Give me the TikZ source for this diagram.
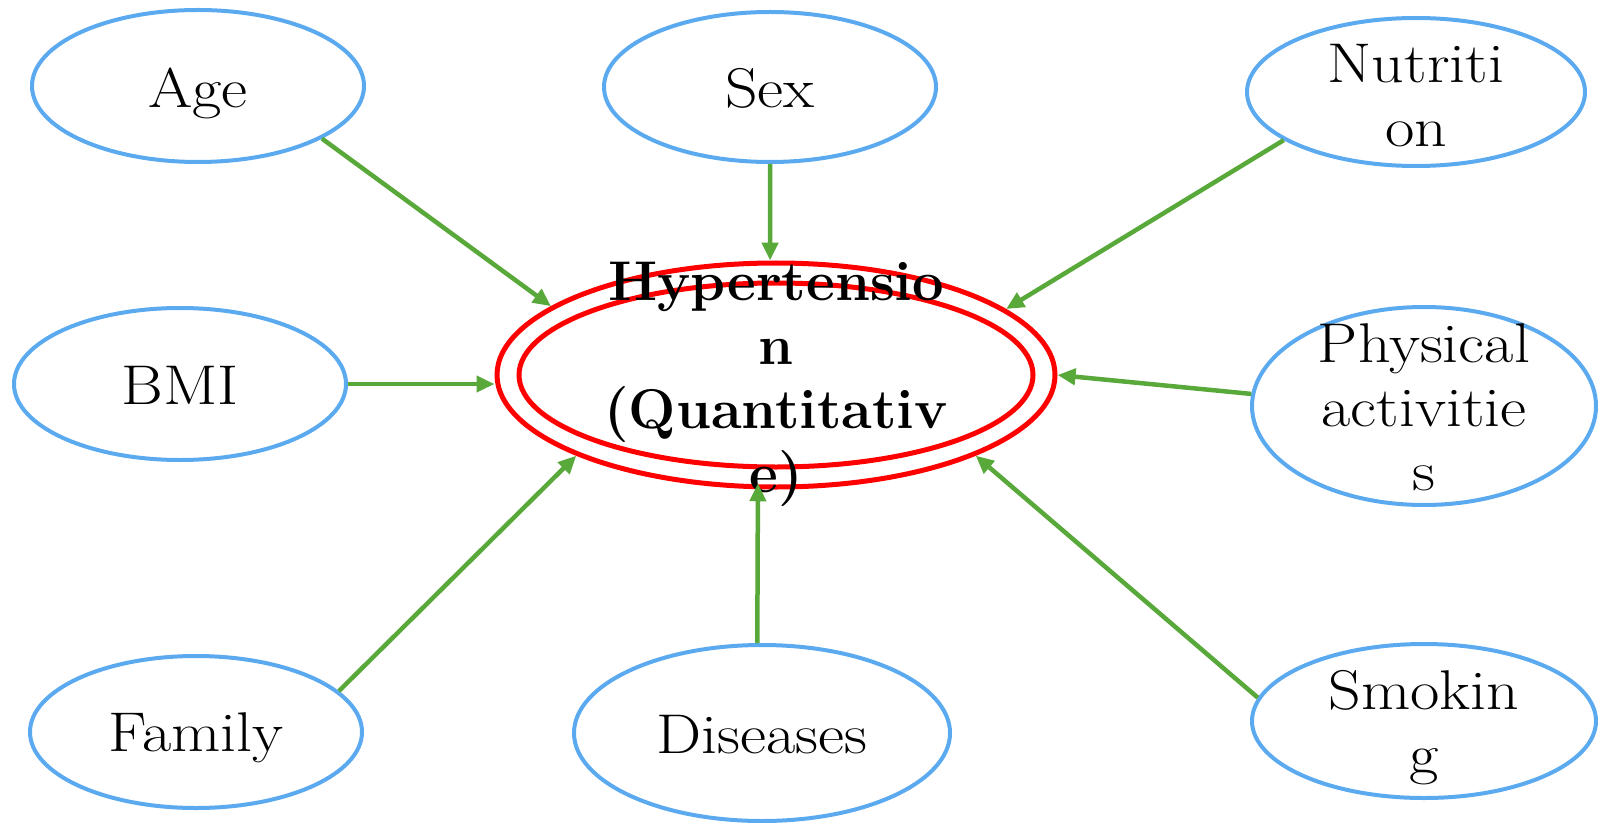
\documentclass[tikz,border=0pt]{standalone}
\usepackage{fontspec}
\usetikzlibrary{shapes.geometric,arrows.meta}
% a slightly widened roman for the bubble labels
\newfontfamily\bubblefont{Latin Modern Roman}[FakeStretch=1.14]
\definecolor{bubbleblue}{RGB}{91,170,240}
\definecolor{linkgreen}{RGB}{88,168,58}
\definecolor{corered}{RGB}{255,0,0}
\begin{document}
\begin{tikzpicture}[x=0.5pt,y=-0.5pt,
  bubble/.style={ellipse, draw=bubbleblue, line width=2pt, inner sep=0pt},
  corering/.style={ellipse, draw=corered, line width=2.5pt, inner sep=0pt},
  labeltext/.style={align=center, font=\bubblefont\fontsize{28}{32}\selectfont, inner sep=0pt},
  link/.style={draw=linkgreen, line width=2.25pt, -{Triangle[length=9pt,width=8pt]}}
]
\useasboundingbox (0,0) rectangle (1598,823);

% central double ring
\node[corering, minimum width=279pt, minimum height=112pt] (hyp) at (776,375) {};
\node[corering, minimum width=257pt, minimum height=92pt] (hypin) at (776,375) {};
\node[labeltext, font=\rmfamily\fontsize{28}{32}\selectfont\bfseries] (hyp-t) at (776,384)
  {Hypertensio\\n\\(Quantitativ\\e)};

% factor bubbles
\node[bubble, minimum width=166pt, minimum height=76pt] (age) at (198,86) {};
\node[labeltext] (age-t) at (198,93) {Age};

\node[bubble, minimum width=166pt, minimum height=75pt] (sex) at (770,87) {};
\node[labeltext] (sex-t) at (770,88) {Sex};

\node[bubble, minimum width=169pt, minimum height=74pt] (nut) at (1416,92) {};
\node[labeltext] (nut-t) at (1416,96) {Nutriti\\on};

\node[bubble, minimum width=166pt, minimum height=76pt] (bmi) at (180,384) {};
\node[labeltext] (bmi-t) at (180,385) {BMI};

\node[bubble, minimum width=172pt, minimum height=99pt] (phys) at (1424,406) {};
\node[labeltext] (phys-t) at (1424,407) {Physical\\activitie\\s};

\node[bubble, minimum width=166pt, minimum height=76pt] (fam) at (196,732) {};
\node[labeltext] (fam-t) at (196,738) {Family};

\node[bubble, minimum width=188pt, minimum height=88pt] (dis) at (762,733) {};
\node[labeltext] (dis-t) at (762,735) {Diseases};

\node[bubble, minimum width=172pt, minimum height=77pt] (smk) at (1424,721) {};
\node[labeltext] (smk-t) at (1424,728) {Smokin\\g};

% influences pointing into the core
\draw[link] (age.-23.6) -- (hyp.163);
\draw[link] (sex.south) -- (hyp.93);
\draw[link] (nut.200) -- (hyp.16);
\draw[link] (bmi.east) -- (bmi.east -| hyp.west);
\draw[link] (phys.176.8) -- (hyp.-0.4);
\draw[link] (fam.16.6) -- (hyp.202.6);
\draw[link, shorten >=-3pt] (dis.93.8) -- (hyp.-99.4);
\draw[link] (smk.172.8) -- (hyp.-22.2);
\end{tikzpicture}
\end{document}
